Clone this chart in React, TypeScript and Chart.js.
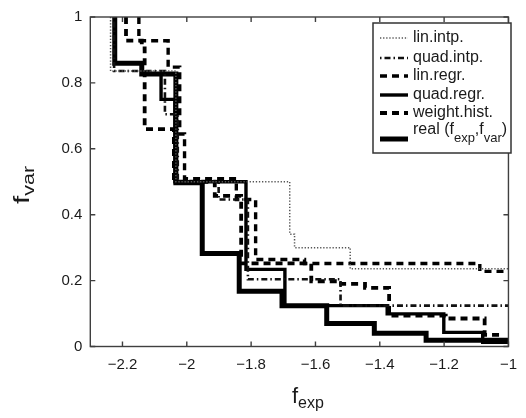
import React, { useEffect, useRef } from 'react';
import { Chart, registerables } from 'chart.js';

Chart.register(...registerables);

// ---------- data ----------
const seriesLabels = ['lin.intp.', 'quad.intp.', 'lin.regr.', 'quad.regr.', 'weight.hist.', 'real'];

const linIntpX = [-2.237, -2.237, -2.034, -1.68, -1.665, -1.492, -1.0];
const linIntpY = [1.0, 0.836, 0.5, 0.341, 0.3, 0.236, 0.236];

const quadIntpX = [-2.226, -2.226, -2.068, -2.028, -1.901, -1.81, -1.522, -1.0];
const quadIntpY = [1.0, 0.836, 0.705, 0.5, 0.446, 0.204, 0.124, 0.124];

const linRegrX = [-2.149, -2.149, -2.058, -2.022, -2.007, -1.846, -1.786, -1.634, -1.089, -1.0];
const linRegrY = [1.0, 0.928, 0.848, 0.645, 0.509, 0.446, 0.264, 0.252, 0.228, 0.228];

const quadRegrX = [-2.224, -2.224, -2.14, -2.08, -2.037, -1.816, -1.695, -1.377, -1.201, -1.08, -1.0];
const quadRegrY = [1.0, 0.86, 0.827, 0.75, 0.5, 0.234, 0.124, 0.099, 0.043, 0.013, 0.013];

const weightHistX = [-2.189, -2.189, -2.14, -2.131, -2.04, -1.913, -1.831, -1.613, -1.528, -1.446, -1.371, -1.195, -1.074, -1.028, -1.0];
const weightHistY = [1.0, 0.928, 0.905, 0.66, 0.5, 0.457, 0.252, 0.198, 0.19, 0.178, 0.094, 0.085, 0.035, 0.015, 0.015];

const realX = [-2.224, -2.224, -2.14, -2.034, -1.952, -1.837, -1.704, -1.565, -1.417, -1.256, -1.0];
const realY = [1.0, 0.86, 0.827, 0.497, 0.282, 0.168, 0.124, 0.07, 0.04, 0.019, 0.019];

const xTickValues = [-2.2, -2.0, -1.8, -1.6, -1.4, -1.2, -1.0];
const xTickLabels = ['\u22122.2', '\u22122', '\u22121.8', '\u22121.6', '\u22121.4', '\u22121.2', '\u22121'];
const yTickValues = [0, 0.2, 0.4, 0.6, 0.8, 1];
const yTickLabels = ['0', '0.2', '0.4', '0.6', '0.8', '1'];
const xMin = -2.3;
const xMax = -1.0;
const yMin = 0;
const yMax = 1;

// ---------- styles ----------
const FONT = '"Liberation Sans", Arial, Helvetica, sans-serif';
const TEXT = '#1a1a1a';

type Style = { width: number; dash: number[]; color: string };
const styles: Style[] = [
  { width: 1.5, dash: [1.3, 1.8], color: '#555555' },
  { width: 2.6, dash: [1.5, 3, 6, 3], color: '#111111' },
  { width: 3.4, dash: [7, 5], color: '#000000' },
  { width: 3.4, dash: [], color: '#000000' },
  { width: 3.8, dash: [7, 5], color: '#000000' },
  { width: 5, dash: [], color: '#000000' },
];

const seriesXs = [linIntpX, quadIntpX, linRegrX, quadRegrX, weightHistX, realX];
const seriesYs = [linIntpY, quadIntpY, linRegrY, quadRegrY, weightHistY, realY];

type Part = { t: string; size: number; dy: number };

function drawParts(ctx: CanvasRenderingContext2D, parts: Part[], x: number, y: number) {
  let cx = x;
  parts.forEach((p) => {
    ctx.font = `${p.size}px ${FONT}`;
    ctx.fillText(p.t, cx, y + p.dy);
    cx += ctx.measureText(p.t).width;
  });
}

const overlayPlugin = {
  id: 'overlay',
  afterDatasetsDraw(chart: any) {
    const { ctx, chartArea: a, scales } = chart;
    const sx = scales.x;
    const sy = scales.y;
    ctx.save();
    // frame + inward ticks
    ctx.strokeStyle = '#3f3f3f';
    ctx.lineWidth = 1.4;
    ctx.setLineDash([]);
    ctx.strokeRect(a.left, a.top, a.right - a.left, a.bottom - a.top);
    ctx.beginPath();
    const tl = 5;
    xTickValues.forEach((v) => {
      const p = sx.getPixelForValue(v);
      ctx.moveTo(p, a.bottom);
      ctx.lineTo(p, a.bottom - tl);
      ctx.moveTo(p, a.top);
      ctx.lineTo(p, a.top + tl);
    });
    yTickValues.forEach((v) => {
      const p = sy.getPixelForValue(v);
      ctx.moveTo(a.left, p);
      ctx.lineTo(a.left + tl, p);
      ctx.moveTo(a.right, p);
      ctx.lineTo(a.right - tl, p);
    });
    ctx.stroke();

    // legend box
    const bx = a.left + 282.7;
    const by = a.top + 6;
    const bw = 138;
    const bh = 130;
    ctx.fillStyle = '#ffffff';
    ctx.fillRect(bx, by, bw, bh);
    ctx.strokeStyle = '#333333';
    ctx.lineWidth = 1.5;
    ctx.strokeRect(bx, by, bw, bh);

    const rowLine = [15, 35, 53, 72, 90, 116];
    const rowText = [15, 35, 53, 72, 90, 106];
    seriesLabels.forEach((lab, i) => {
      const st = styles[i];
      const ly = by + rowLine[i];
      ctx.beginPath();
      ctx.strokeStyle = st.color;
      ctx.lineWidth = st.width;
      ctx.setLineDash(st.dash);
      ctx.moveTo(bx + 7, ly);
      ctx.lineTo(bx + 35, ly);
      ctx.stroke();
      ctx.setLineDash([]);
      ctx.fillStyle = TEXT;
      ctx.textBaseline = 'middle';
      ctx.textAlign = 'left';
      const ty = by + rowText[i];
      if (i === 5) {
        ctx.textBaseline = 'alphabetic';
        drawParts(ctx, [
          { t: lab + ' (f', size: 16, dy: 0 },
          { t: 'exp', size: 13, dy: 8 },
          { t: ',f', size: 16, dy: 0 },
          { t: 'var', size: 13, dy: 8 },
          { t: ')', size: 16, dy: 0 },
        ], bx + 40, ty + 5);
      } else {
        ctx.font = `16px ${FONT}`;
        ctx.fillText(lab, bx + 40, ty);
      }
    });

    // axis titles
    ctx.fillStyle = TEXT;
    ctx.textBaseline = 'alphabetic';
    ctx.textAlign = 'left';
    drawParts(ctx, [
      { t: 'f', size: 22, dy: 0 },
      { t: 'exp', size: 16, dy: 5 },
    ], 292, 403);

    ctx.save();
    ctx.translate(29, 204);
    ctx.rotate(-Math.PI / 2);
    ctx.scale(1.35, 1);
    drawParts(ctx, [
      { t: 'f', size: 22, dy: 0 },
      { t: 'var', size: 16, dy: 5 },
    ], 0, 0);
    ctx.restore();

    ctx.restore();
  },
};

export default function App() {
  const ref = useRef<HTMLCanvasElement | null>(null);
  useEffect(() => {
    if (!ref.current) return;
    const datasets = seriesLabels.map((lab, i) => ({
      label: lab,
      data: seriesXs[i].map((x, j) => ({ x, y: seriesYs[i][j] })),
      borderColor: styles[i].color,
      borderWidth: styles[i].width,
      borderDash: styles[i].dash,
      backgroundColor: 'transparent',
      stepped: 'before' as const,
      pointRadius: 0,
      fill: false,
      borderCapStyle: 'butt' as const,
      borderJoinStyle: 'miter' as const,
    }));
    const chart = new Chart(ref.current, {
      type: 'line',
      data: { datasets },
      options: {
        animation: false,
        responsive: false,
        maintainAspectRatio: false,
        layout: { padding: { left: 0, right: 6.7, top: 11, bottom: 0 } },
        plugins: { legend: { display: false }, tooltip: { enabled: false } },
        scales: {
          x: {
            type: 'linear',
            min: xMin,
            max: xMax,
            afterBuildTicks: (s: any) => {
              s.ticks = xTickValues.map((v) => ({ value: v }));
            },
            afterFit: (s: any) => {
              s.height = 71.5;
            },
            grid: { display: false, drawTicks: false },
            border: { display: false },
            ticks: {
              callback: (_v: any, i: number) => xTickLabels[i],
              font: { family: FONT, size: 15 },
              color: TEXT,
              padding: 9,
              maxRotation: 0,
              autoSkip: false,
            },
          },
          y: {
            type: 'linear',
            min: yMin,
            max: yMax,
            afterBuildTicks: (s: any) => {
              s.ticks = yTickValues.map((v) => ({ value: v }));
            },
            afterFit: (s: any) => {
              s.width = 90.3;
            },
            grid: { display: false, drawTicks: false },
            border: { display: false },
            ticks: {
              callback: (_v: any, i: number) => yTickLabels[i],
              font: { family: FONT, size: 15 },
              color: TEXT,
              padding: 8,
              autoSkip: false,
            },
          },
        },
      },
      plugins: [overlayPlugin],
    });
    return () => chart.destroy();
  }, []);
  return (
    <div style={{ position: 'fixed', left: 0, top: 0, width: 526, height: 418, background: '#fff' }}>
      <canvas ref={ref} width={526} height={418} style={{ width: 526, height: 418, display: 'block' }} />
    </div>
  );
}
